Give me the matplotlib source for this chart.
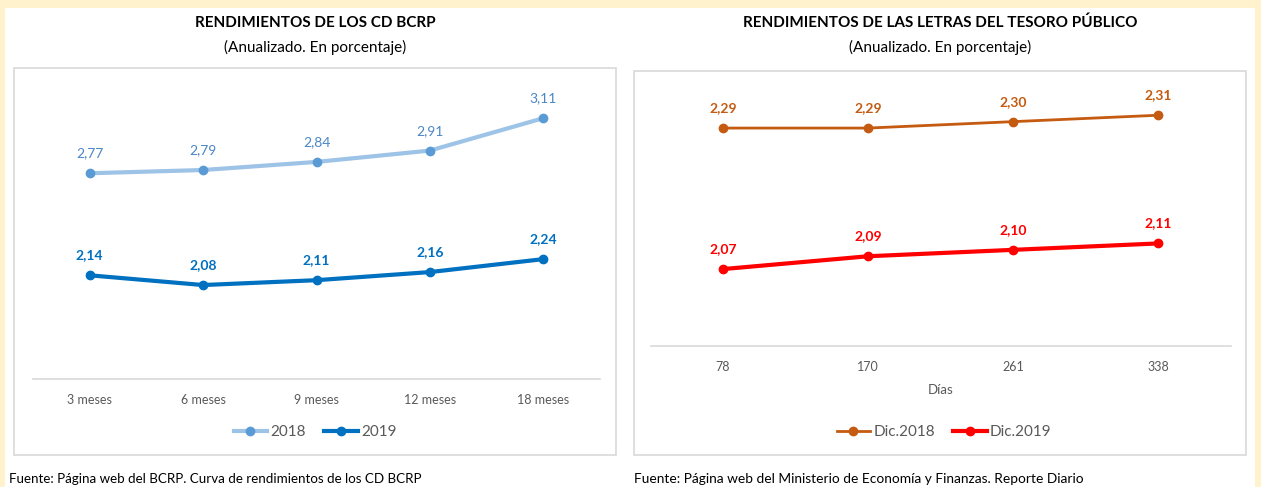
import matplotlib.pyplot as plt
from matplotlib.patches import Rectangle

plt.rcParams['font.family'] = ['Lato', 'DejaVu Sans']

# datos
plazos_cd = ["3 meses", "6 meses", "9 meses", "12 meses", "18 meses"]
cd_2018 = [2.77, 2.79, 2.84, 2.91, 3.11]
cd_2019 = [2.14, 2.08, 2.11, 2.16, 2.24]

dias = ["78", "170", "261", "338"]
letras_2018 = [2.29, 2.29, 2.30, 2.31]
letras_2019 = [2.07, 2.09, 2.10, 2.11]

W, H = 1261, 487
fig = plt.figure(figsize=(W / 100, H / 100), dpi=100)
fig.patch.set_facecolor("#FFF2CC")


def px(x0, y0, x1, y1):
    # pixel box -> figure fraction [left, bottom, width, height]
    return [x0 / W, 1 - y1 / H, (x1 - x0) / W, (y1 - y0) / H]


bg = fig.add_axes([0, 0, 1, 1], zorder=-5)
bg.set_xlim(0, W)
bg.set_ylim(H, 0)
bg.axis("off")
bg.add_patch(Rectangle((5, 8), 1250, 480, facecolor="white", edgecolor="none"))
bg.add_patch(Rectangle((14, 68), 602, 387, facecolor="white", edgecolor="#D9D9D9", lw=1.2))
bg.add_patch(Rectangle((634, 71), 612, 384, facecolor="white", edgecolor="#D9D9D9", lw=1.2))

fs_title = 11
fig.text(315 / W, 1 - 23 / H, "RENDIMIENTOS DE LOS CD BCRP", ha="center", va="center",
         fontsize=fs_title, fontweight="bold", color="#000000")
fig.text(315 / W, 1 - 47 / H, "(Anualizado. En porcentaje)", ha="center", va="center",
         fontsize=fs_title, color="#000000")
fig.text(940 / W, 1 - 23 / H, "RENDIMIENTOS DE LAS LETRAS DEL TESORO PÚBLICO", ha="center",
         va="center", fontsize=fs_title, fontweight="bold", color="#000000")
fig.text(940 / W, 1 - 47 / H, "(Anualizado. En porcentaje)", ha="center", va="center",
         fontsize=fs_title, color="#000000")

fig.text(9 / W, 1 - 479 / H, "Fuente: Página web del BCRP. Curva de rendimientos de los CD BCRP",
         ha="left", va="center", fontsize=9.6, color="#000000")
fig.text(634 / W, 1 - 479 / H,
         "Fuente: Página web del Ministerio de Economía y Finanzas. Reporte Diario",
         ha="left", va="center", fontsize=9.9, color="#000000")


def estilo(ax):
    ax.set_facecolor("none")
    for s in ["top", "left", "right"]:
        ax.spines[s].set_visible(False)
    ax.spines["bottom"].set_color("#D9D9D9")
    ax.spines["bottom"].set_linewidth(1.2)
    ax.set_yticks([])
    ax.tick_params(axis="x", length=0, pad=11, labelsize=9, labelcolor="#595959")


def fmt(v):
    return f"{v:.2f}".replace(".", ",")


# izquierda
ax1 = fig.add_axes(px(33, 78, 600, 379))
x1 = range(len(plazos_cd))
l1, = ax1.plot(x1, cd_2018, color="#9DC3E6", lw=3, marker="o", ms=6,
               mfc="#5B9BD5", mec="#5B9BD5", label="2018")
l2, = ax1.plot(x1, cd_2019, color="#0070C0", lw=3, marker="o", ms=6,
               mfc="#0070C0", mec="#0070C0", label="2019")
for i, v in enumerate(cd_2018):
    ax1.annotate(fmt(v), (i, v), xytext=(0, 10), textcoords="offset points",
                 ha="center", va="bottom", fontsize=10, color="#4A86C5")
for i, v in enumerate(cd_2019):
    ax1.annotate(fmt(v), (i, v), xytext=(0, 10), textcoords="offset points",
                 ha="center", va="bottom", fontsize=10, color="#0070C0", fontweight="bold")
ax1.set_xlim(-0.5, len(plazos_cd) - 0.5)
ax1.set_ylim(1.5, 1.5 + (379 - 78) / 162)
ax1.set_xticks(list(x1))
ax1.set_xticklabels(plazos_cd)
estilo(ax1)
fig.legend(handles=[l1, l2], loc="center", bbox_to_anchor=(315 / W, 1 - 432 / H),
           ncol=2, frameon=False, fontsize=11, handlelength=2.2, handletextpad=0.2,
           columnspacing=1.2, labelcolor="#595959")

# derecha
ax2 = fig.add_axes(px(650.5, 78, 1230.5, 346))
x2 = range(len(dias))
l3, = ax2.plot(x2, letras_2018, color="#C55A11", lw=2, marker="o", ms=6,
               label="Dic.2018")
l4, = ax2.plot(x2, letras_2019, color="#FF0000", lw=3, marker="o", ms=6,
               label="Dic.2019")
for i, v in enumerate(letras_2018):
    ax2.annotate(fmt(v), (i, v), xytext=(0, 10), textcoords="offset points",
                 ha="center", va="bottom", fontsize=10, color="#C55A11", fontweight="bold")
for i, v in enumerate(letras_2019):
    ax2.annotate(fmt(v), (i, v), xytext=(0, 10), textcoords="offset points",
                 ha="center", va="bottom", fontsize=10, color="#FF0000", fontweight="bold")
ax2.set_xlim(-0.5, len(dias) - 0.5)
ax2.set_ylim(1.95, 1.95 + (346 - 78) / 641)
ax2.set_xticks(list(x2))
ax2.set_xticklabels(dias)
estilo(ax2)
ax2.set_xlabel("Días", fontsize=9.5, color="#595959", labelpad=8)
fig.legend(handles=[l3, l4], loc="center", bbox_to_anchor=(944 / W, 1 - 432 / H),
           ncol=2, frameon=False, fontsize=11, handlelength=2.2, handletextpad=0.2,
           columnspacing=1.2, labelcolor="#595959")

fig.savefig("out.png", dpi=100, facecolor=fig.get_facecolor())
